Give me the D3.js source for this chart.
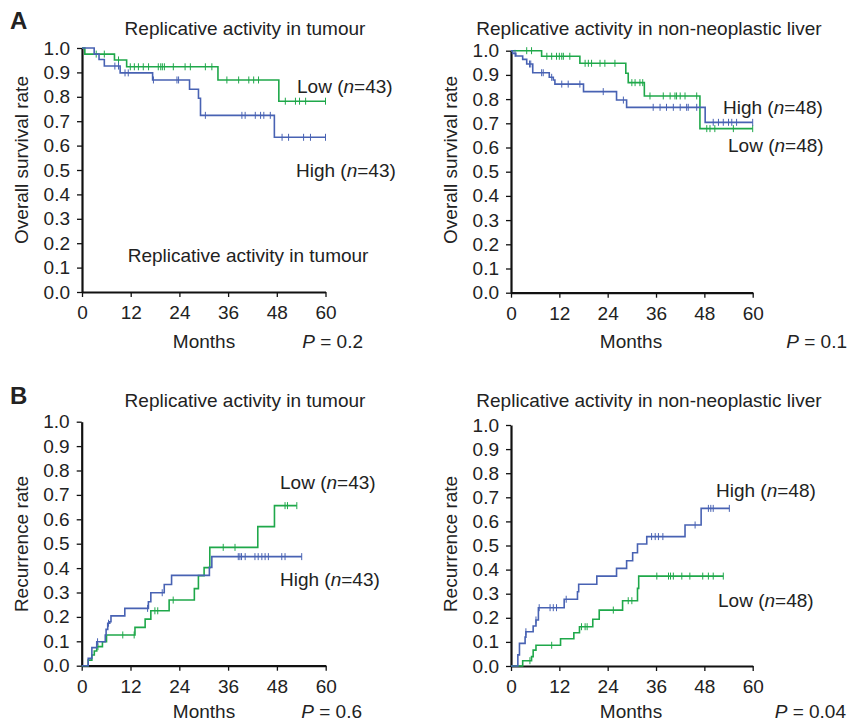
<!DOCTYPE html>
<html>
<head>
<meta charset="utf-8">
<script src="https://cdn.jsdelivr.net/npm/d3@7"></script>
<style>
  html, body { margin: 0; padding: 0; background: #fff; }
  svg { display: block; }
  text { font-family: "Liberation Sans", Arial, Helvetica, sans-serif; fill: #222; }
</style>
</head>
<body>
<svg id="chart" width="848" height="724"></svg>
<script>
// ---------- shared ticks ----------
const monthTicks = [0, 12, 24, 36, 48, 60];
const rateTicks = [0, 0.1, 0.2, 0.3, 0.4, 0.5, 0.6, 0.7, 0.8, 0.9, 1.0];

// ---------- A: overall survival, tumour ----------
const osTumourLowT  = [0, 0.7, 8.0, 11.0, 33.5, 48.5, 60];
const osTumourLowV  = [1.0, 0.975, 0.951, 0.923, 0.869, 0.782, 0.782];
const osTumourLowC  = [3.5, 5.5, 9, 11.9, 12.9, 13.9, 15.1, 16.4, 18.8, 19.4, 19.8, 20.3, 22.5, 25.4, 26.7, 30.4, 32, 35.7, 38.6, 41.1, 42.3, 43.5, 50.1, 52.6, 53.6, 55.1, 60];
const osTumourHighT = [0, 3.0, 4.2, 5.5, 9.4, 17.4, 26.5, 28.7, 29.2, 47.4, 60];
const osTumourHighV = [1.0, 0.975, 0.953, 0.926, 0.898, 0.869, 0.831, 0.794, 0.724, 0.634, 0.634];
const osTumourHighC = [8.1, 9, 10.6, 11.4, 17.6, 23.4, 23.8, 30.4, 39.4, 40.2, 42.7, 44, 44.8, 46.4, 49.3, 50.9, 54.6, 56.3, 60];

// ---------- A: overall survival, non-neoplastic liver ----------
const osLiverLowT  = [0, 7.6, 17.1, 28.5, 29.1, 33.1, 46.9, 60];
const osLiverLowV  = [1.0, 0.977, 0.948, 0.907, 0.868, 0.813, 0.678, 0.678];
const osLiverLowC  = [3.9, 5.1, 8.9, 10.1, 11.3, 12.0, 12.6, 13.0, 14.6, 18.4, 19.2, 20.0, 22.1, 23.3, 25.8, 30.0, 30.8, 32.0, 32.7, 34.5, 37.8, 39.5, 40.7, 41.1, 42.0, 43.2, 46.1, 48.6, 49.4, 50.6, 55.2, 60];
const osLiverHighT = [0, 0.4, 1.2, 2.9, 3.9, 5.4, 9.5, 10.5, 10.9, 18.0, 26.2, 28.7, 48.2, 60];
const osLiverHighV = [1.0, 0.989, 0.978, 0.964, 0.945, 0.909, 0.89, 0.879, 0.862, 0.831, 0.796, 0.766, 0.704, 0.704];
const osLiverHighC = [1.0, 4.6, 4.9, 7.6, 8.0, 10.1, 12.6, 14.2, 17.1, 22.9, 27.9, 35.3, 37.0, 38.6, 40.3, 42.0, 43.6, 44.0, 46.1, 50.2, 51.5, 52.7, 54.0, 54.8, 56.0, 60];

// ---------- B: recurrence, tumour ----------
const recTumourLowT  = [0, 1.6, 2.5, 3.1, 3.7, 5.1, 6.1, 13.1, 15.6, 17.0, 21.5, 27.7, 28.7, 30.1, 31.5, 43.3, 47.4, 52.9];
const recTumourLowV  = [0, 0.023, 0.044, 0.06, 0.078, 0.098, 0.126, 0.157, 0.191, 0.225, 0.269, 0.316, 0.369, 0.402, 0.485, 0.57, 0.656, 0.656];
const recTumourLowC  = [4.0, 10.1, 12.9, 18.0, 18.7, 22.5, 34.8, 37.7, 50.0, 50.6, 52.9];
const recTumourHighT = [0, 1.6, 2.5, 3.7, 5.8, 6.0, 6.4, 6.9, 7.2, 10.6, 16.4, 17.0, 20.3, 22.1, 31.4, 32.0, 54.1];
const recTumourHighV = [0, 0.03, 0.074, 0.098, 0.126, 0.149, 0.174, 0.18, 0.204, 0.235, 0.262, 0.299, 0.333, 0.37, 0.403, 0.447, 0.447];
const recTumourHighC = [3.9, 6.6, 16.2, 19.8, 38.5, 38.9, 39.3, 40.2, 42.6, 43.4, 44.3, 45.1, 45.9, 49.2, 50.0, 54.1];

// ---------- B: recurrence, non-neoplastic liver ----------
const recLiverHighT = [0, 1.7, 2.1, 3.5, 3.7, 5.5, 6.2, 6.8, 13.2, 16.5, 16.8, 21.3, 26.2, 28.7, 30.2, 31.4, 33.7, 43.2, 47.2, 54.2];
const recLiverHighV = [0, 0.046, 0.094, 0.12, 0.142, 0.166, 0.191, 0.242, 0.277, 0.308, 0.339, 0.373, 0.405, 0.437, 0.47, 0.506, 0.537, 0.585, 0.654, 0.654];
const recLiverHighC = [3.7, 6.2, 7.0, 9.7, 10.5, 11.3, 13.7, 34.9, 35.8, 36.6, 37.7, 45.7, 49.0, 49.6, 50.2, 54.2];
const recLiverLowT  = [0, 2.9, 5.1, 5.5, 6.2, 12.3, 15.6, 17.0, 20.3, 21.9, 27.7, 31.4, 31.7, 52.7];
const recLiverLowV  = [0, 0.022, 0.039, 0.066, 0.086, 0.113, 0.138, 0.163, 0.194, 0.232, 0.271, 0.322, 0.373, 0.373];
const recLiverLowC  = [4.7, 10.1, 17.5, 18.4, 18.9, 25.4, 29.1, 30.0, 36.2, 39.1, 39.6, 40.3, 42.4, 44.4, 47.6, 49.0, 50.2, 52.7];

// ---------- text ----------
const titleTumour = "Replicative activity in tumour";
const titleLiver = "Replicative activity in non-neoplastic liver";
const yLabelOS = "Overall survival rate";
const yLabelRec = "Recurrence rate";
const xLabel = "Months";
const pValues = ["0.2", "0.1", "0.6", "0.04"];

const GREEN = "#1fa84a";
const BLUE = "#4862b3";
const FONT = 19;

const svg = d3.select("#chart");

// panel layout (pixel geometry only)
const panels = [
  { x0: 82, x1: 325.5, yT: 48, yB: 292, title: titleTumour, titleX: 245, titleY: 28, ylab: yLabelOS, ylabX: 21, ylabY: 160,
    p: pValues[0], pX: 363, pY: 341, mX: 204, mY: 341,
    series: [
      { t: osTumourLowT, v: osTumourLowV, c: osTumourLowC, color: GREEN, label: "Low", n: 43, lx: 297, ly: 86 },
      { t: osTumourHighT, v: osTumourHighV, c: osTumourHighC, color: BLUE, label: "High", n: 43, lx: 296, ly: 170 }
    ]},
  { x0: 511, x1: 752.7, yT: 50.7, yB: 292.7, title: titleLiver, titleX: 649, titleY: 28, ylab: yLabelOS, ylabX: 450, ylabY: 160,
    p: pValues[1], pX: 847, pY: 341, mX: 631, mY: 341,
    series: [
      { t: osLiverLowT, v: osLiverLowV, c: osLiverLowC, color: GREEN, label: "Low", n: 48, lx: 728, ly: 145 },
      { t: osLiverHighT, v: osLiverHighV, c: osLiverHighC, color: BLUE, label: "High", n: 48, lx: 723, ly: 107 }
    ]},
  { x0: 81.7, x1: 325.7, yT: 421.7, yB: 665.7, title: titleTumour, titleX: 245, titleY: 400, ylab: yLabelRec, ylabX: 21, ylabY: 544,
    p: pValues[2], pX: 362, pY: 711, mX: 204, mY: 711,
    series: [
      { t: recTumourLowT, v: recTumourLowV, c: recTumourLowC, color: GREEN, label: "Low", n: 43, lx: 280, ly: 482 },
      { t: recTumourHighT, v: recTumourHighV, c: recTumourHighC, color: BLUE, label: "High", n: 43, lx: 280, ly: 579 }
    ]},
  { x0: 511, x1: 752.7, yT: 425, yB: 666, title: titleLiver, titleX: 649, titleY: 400, ylab: yLabelRec, ylabX: 450, ylabY: 544,
    p: pValues[3], pX: 846, pY: 711, mX: 631, mY: 711,
    series: [
      { t: recLiverLowT, v: recLiverLowV, c: recLiverLowC, color: GREEN, label: "Low", n: 48, lx: 718, ly: 600 },
      { t: recLiverHighT, v: recLiverHighV, c: recLiverHighC, color: BLUE, label: "High", n: 48, lx: 716, ly: 490 }
    ]}
];

// panel letters
svg.append("text").attr("x", 10).attr("y", 29).attr("font-size", 24).attr("font-weight", "bold").attr("fill", "#111").text("A");
svg.append("text").attr("x", 10).attr("y", 404).attr("font-size", 24).attr("font-weight", "bold").attr("fill", "#111").text("B");

// repeated caption inside panel A (left)
svg.append("text").attr("x", 127.7).attr("y", 255).attr("dy", "0.35em").attr("font-size", FONT).text(titleTumour);

function valueAt(t, v, time) {
  let val = v[0];
  for (let i = 0; i < t.length; i++) { if (t[i] <= time) val = v[i]; else break; }
  return val;
}

panels.forEach(P => {
  const x = d3.scaleLinear().domain([0, 60]).range([P.x0, P.x1]);
  const y = d3.scaleLinear().domain([0, 1]).range([P.yB, P.yT]);
  const g = svg.append("g");

  // axes
  const yAxis = d3.axisLeft(y).tickValues(rateTicks).tickFormat(d3.format(".1f")).tickSize(5).tickSizeOuter(0).tickPadding(7);
  const xAxis = d3.axisBottom(x).tickValues(monthTicks).tickFormat(d3.format("d")).tickSize(5).tickSizeOuter(0).tickPadding(9);
  const gy = g.append("g").attr("transform", `translate(${P.x0},0)`).call(yAxis);
  const gx = g.append("g").attr("transform", `translate(0,${P.yB})`).call(xAxis);
  [gx, gy].forEach(a => {
    a.selectAll("text").attr("font-size", FONT).attr("font-family", "Liberation Sans, Arial, sans-serif").attr("fill", "#222");
    a.select(".domain").attr("stroke", "#111").attr("stroke-width", 2.2);
    a.selectAll(".tick line").attr("stroke", "#111").attr("stroke-width", 1.3);
  });

  // curves
  const line = d3.line().x(d => x(d[0])).y(d => y(d[1])).curve(d3.curveStepAfter);
  P.series.forEach(S => {
    const pts = S.t.map((tt, i) => [tt, S.v[i]]);
    g.append("path").datum(pts).attr("d", line).attr("fill", "none").attr("stroke", S.color).attr("stroke-width", 1.6);
    g.selectAll(null).data(S.c).enter().append("line")
      .attr("x1", d => x(d)).attr("x2", d => x(d))
      .attr("y1", d => y(valueAt(S.t, S.v, d)) - 3.5)
      .attr("y2", d => y(valueAt(S.t, S.v, d)) + 3.5)
      .attr("stroke", S.color).attr("stroke-width", 1);
    const lt = g.append("text").attr("x", S.lx).attr("y", S.ly).attr("dy", "0.35em").attr("font-size", FONT);
    lt.append("tspan").text(S.label + " (");
    lt.append("tspan").attr("font-style", "italic").text("n");
    lt.append("tspan").text("=" + S.n + ")");
  });

  // titles and labels
  g.append("text").attr("x", P.titleX).attr("y", P.titleY).attr("dy", "0.35em").attr("text-anchor", "middle").attr("font-size", FONT).text(P.title);
  g.append("text").attr("transform", `translate(${P.ylabX},${P.ylabY}) rotate(-90)`).attr("dy", "0.35em").attr("text-anchor", "middle").attr("font-size", FONT).text(P.ylab);
  g.append("text").attr("x", P.mX).attr("y", P.mY).attr("dy", "0.35em").attr("text-anchor", "middle").attr("font-size", FONT).text(xLabel);
  const pt = g.append("text").attr("x", P.pX).attr("y", P.pY).attr("dy", "0.35em").attr("text-anchor", "end").attr("font-size", FONT);
  pt.append("tspan").attr("font-style", "italic").text("P");
  pt.append("tspan").text(" = " + P.p);
});
</script>
</body>
</html>
